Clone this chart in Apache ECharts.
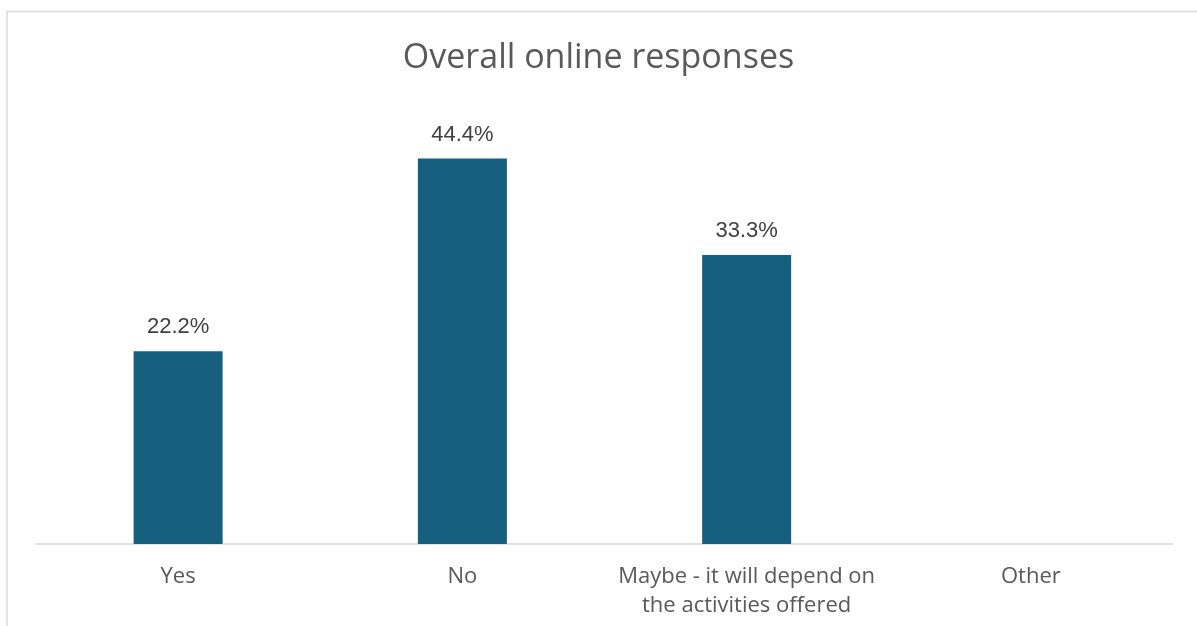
<!DOCTYPE html>
<html>
<head>
<meta charset="utf-8">
<style>
  html, body { margin: 0; padding: 0; background: #ffffff; }
  #chart { width: 1197px; height: 626px; }
</style>
<script src="https://cdn.jsdelivr.net/npm/echarts@6/dist/echarts.min.js"></script>
</head>
<body>
<div id="chart"></div>
<script>
// Survey answers and their share of responses (%)
const categories = ['Yes', 'No', 'Maybe - it will depend on\nthe activities offered', 'Other'];
const shares = [22.2, 44.4, 33.3, 0];
const titleText = 'Overall online responses';

const chart = echarts.init(document.getElementById('chart'), null, { renderer: 'canvas' });

const seriesData = shares.map(v => ({
  value: v,
  label: { show: v > 0 }
}));

chart.setOption({
  animation: false,
  backgroundColor: '#ffffff',
  title: {
    text: titleText,
    left: 'center',
    top: 36,
    textStyle: {
      fontFamily: 'Open Sans',
      fontSize: 34,
      fontWeight: 'normal',
      color: '#595959'
    }
  },
  graphic: [{
    type: 'rect',
    silent: true,
    shape: { x: 7, y: 11.5, width: 1400, height: 800 },
    style: { fill: 'none', stroke: '#d9d9d9', lineWidth: 1.5 }
  }],
  grid: { left: 36, right: 24, top: 110, bottom: 82, containLabel: false },
  xAxis: {
    type: 'category',
    data: categories,
    axisLine: { show: true, lineStyle: { color: '#d9d9d9', width: 1.5 } },
    axisTick: { show: false },
    axisLabel: {
      fontFamily: 'Open Sans',
      fontSize: 22,
      color: '#595959',
      lineHeight: 29,
      margin: 18,
      interval: 0
    }
  },
  yAxis: {
    type: 'value',
    min: 0,
    max: 50,
    interval: 10,
    show: false,
    splitLine: { show: false }
  },
  series: [{
    type: 'bar',
    data: seriesData,
    barWidth: 89,
    itemStyle: { color: '#175f7f' },
    label: {
      position: 'top',
      distance: 13,
      fontFamily: 'Liberation Sans',
      fontSize: 22,
      color: '#404040',
      formatter: p => p.value.toFixed(1) + '%'
    }
  }]
});
</script>
</body>
</html>
